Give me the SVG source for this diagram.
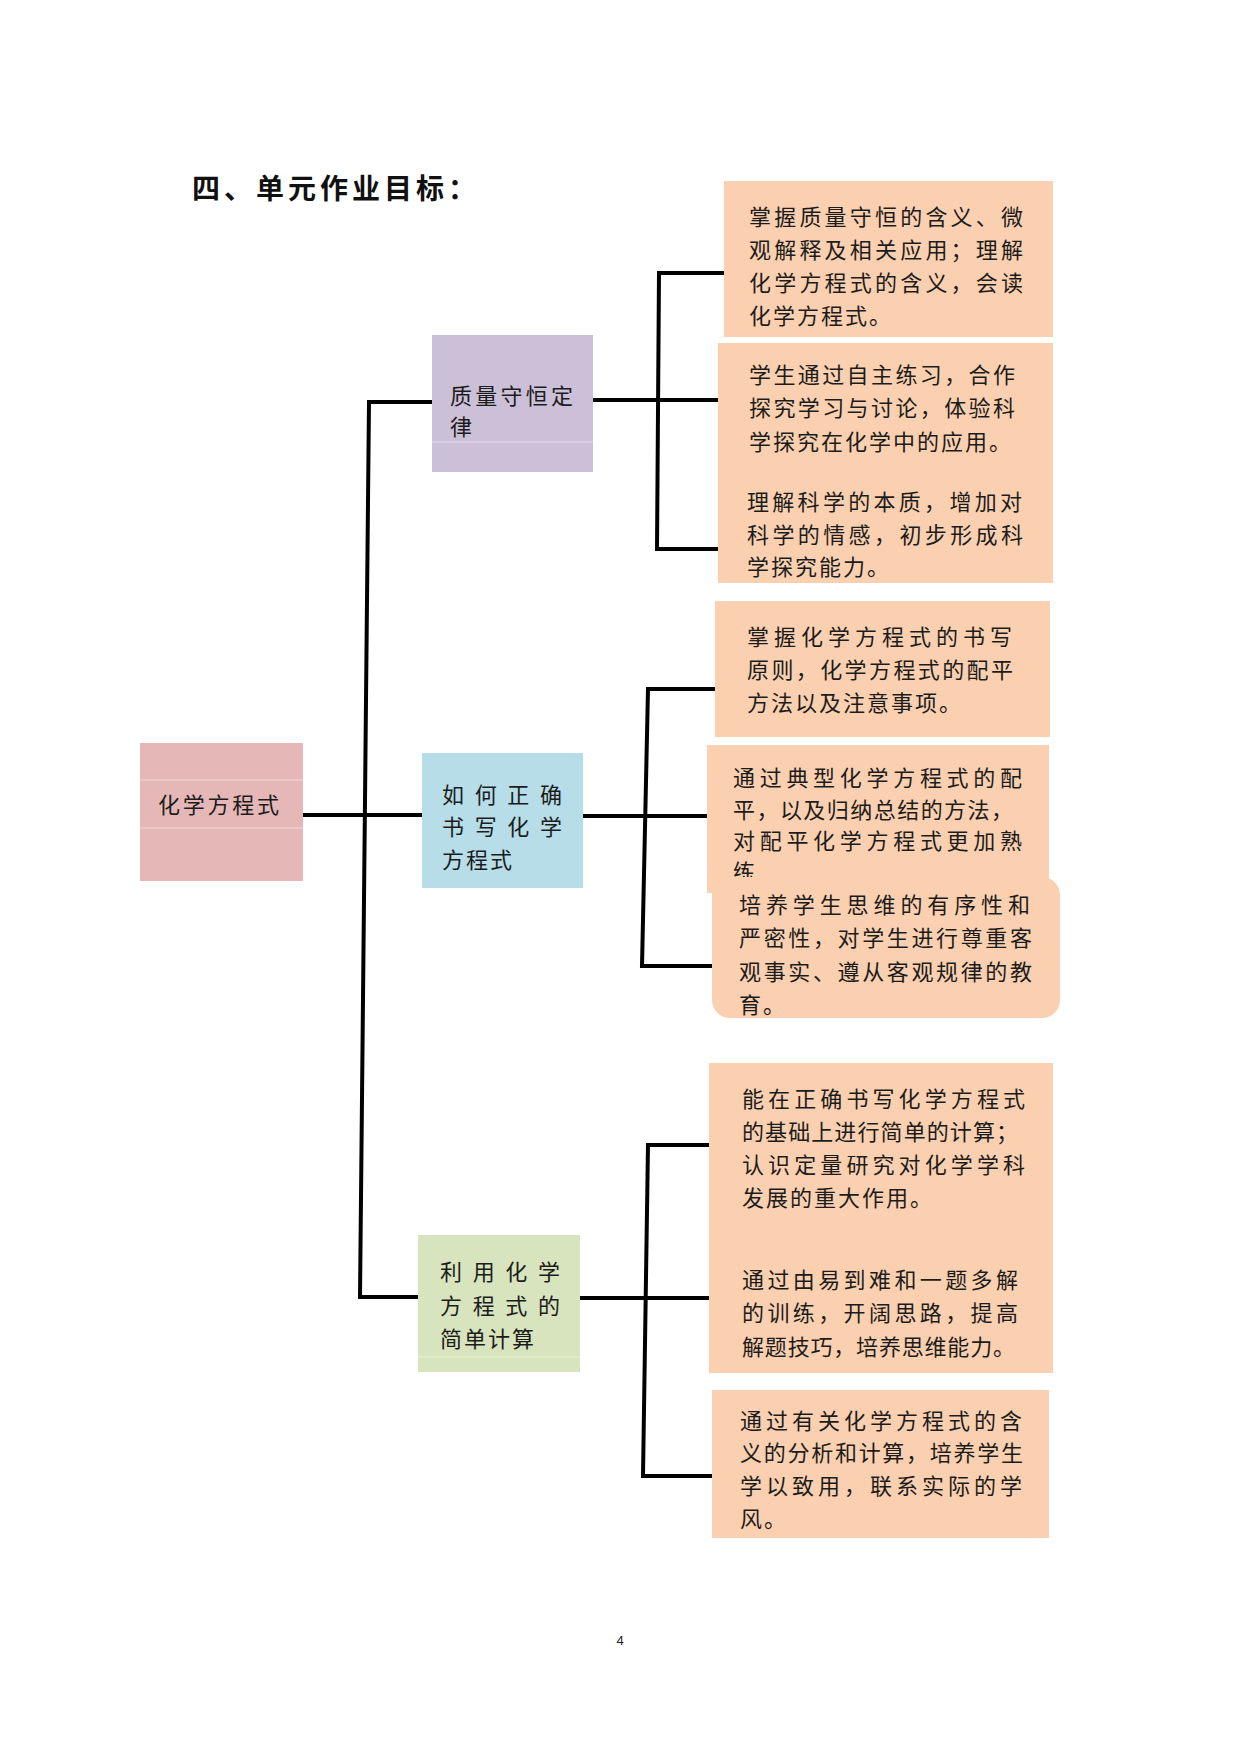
<svg xmlns="http://www.w3.org/2000/svg" width="1240" height="1754" viewBox="0 0 1240 1754">
<style>
.t{font-family:"Noto Sans CJK SC","Noto Sans CJK JP",sans-serif;font-size:22px;fill:#1c1c1c}
.n{letter-spacing:2px}
.title{font-family:"Noto Sans CJK SC",sans-serif;font-size:28px;font-weight:bold;fill:#111;letter-spacing:4px}
.conn{stroke:#000;stroke-width:4;fill:none;stroke-linecap:square}
.o{fill:#fbd0b0}
.faint{stroke:#ffffff;stroke-opacity:0.3;stroke-width:1.5}
</style>
<rect width="1240" height="1754" fill="#ffffff"/>
<text class="title" x="192" y="199">四、单元作业目标：</text>

<g id="connectors">
<path class="conn" d="M303,815 H422"/>
<path class="conn" d="M432,402 H369 L360,1297 H418"/>
<path class="conn" d="M593,400 H718"/>
<path class="conn" d="M724,273 H659 L657,549 H718"/>
<path class="conn" d="M583,816 H707"/>
<path class="conn" d="M715,689 H648 L642,966 H712"/>
<path class="conn" d="M580,1298 H709"/>
<path class="conn" d="M709,1145 H648 L643,1476 H712"/>
</g>

<g id="root">
<rect x="140" y="743" width="163" height="138" fill="#e5b8b7"/>
<line class="faint" x1="140" y1="780" x2="303" y2="780"/>
<line class="faint" x1="140" y1="828" x2="303" y2="828"/>
<text class="t" x="158" y="813" textLength="121" lengthAdjust="spacing">化学方程式</text>
</g>

<g id="node-zhiliang">
<rect x="432" y="335" width="161" height="137" fill="#ccc0d9"/>
<line class="faint" x1="432" y1="442" x2="593" y2="442"/>
<text class="t" x="450" y="404" textLength="123" lengthAdjust="spacing">质量守恒定</text>
<text class="t n" x="450" y="435">律</text>
</g>

<g id="node-shuxie">
<rect x="422" y="753" width="161" height="135" fill="#b6dde8"/>
<text class="t" x="442" y="803" textLength="120" lengthAdjust="spacing">如何正确</text>
<text class="t" x="442" y="835" textLength="120" lengthAdjust="spacing">书写化学</text>
<text class="t n" x="442" y="868">方程式</text>
</g>

<g id="node-jisuan">
<rect x="418" y="1235" width="162" height="137" fill="#d7e4bd"/>
<line class="faint" x1="418" y1="1357" x2="580" y2="1357"/>
<text class="t" x="440" y="1280" textLength="120" lengthAdjust="spacing">利用化学</text>
<text class="t" x="440" y="1314" textLength="120" lengthAdjust="spacing">方程式的</text>
<text class="t n" x="440" y="1347">简单计算</text>
</g>

<g id="goal-1">
<rect class="o" x="724" y="181" width="329" height="156"/>
<text class="t" x="749" y="225" textLength="274" lengthAdjust="spacing">掌握质量守恒的含义、微</text>
<text class="t" x="749" y="258" textLength="274" lengthAdjust="spacing">观解释及相关应用；理解</text>
<text class="t" x="749" y="291" textLength="274" lengthAdjust="spacing">化学方程式的含义，会读</text>
<text class="t n" x="749" y="324">化学方程式。</text>
</g>

<g id="goal-2-3">
<rect class="o" x="718" y="343" width="335" height="240"/>
<text class="t" x="749" y="383" textLength="266" lengthAdjust="spacing">学生通过自主练习，合作</text>
<text class="t" x="749" y="416" textLength="266" lengthAdjust="spacing">探究学习与讨论，体验科</text>
<text class="t n" x="749" y="450">学探究在化学中的应用。</text>
<text class="t" x="747" y="510" textLength="275" lengthAdjust="spacing">理解科学的本质，增加对</text>
<text class="t" x="747" y="543" textLength="276" lengthAdjust="spacing">科学的情感，初步形成科</text>
<text class="t n" x="747" y="575">学探究能力。</text>
</g>

<g id="goal-4">
<rect class="o" x="715" y="601" width="335" height="136"/>
<text class="t" x="747" y="645" textLength="265" lengthAdjust="spacing">掌握化学方程式的书写</text>
<text class="t" x="747" y="678" textLength="266" lengthAdjust="spacing">原则，化学方程式的配平</text>
<text class="t n" x="747" y="711">方法以及注意事项。</text>
</g>

<g id="goal-5">
<rect class="o" x="707" y="745" width="342" height="148"/>
<text class="t" x="733" y="786" textLength="289" lengthAdjust="spacing">通过典型化学方程式的配</text>
<text class="t" x="733" y="818" textLength="280" lengthAdjust="spacing">平，以及归纳总结的方法，</text>
<text class="t" x="733" y="849" textLength="289" lengthAdjust="spacing">对配平化学方程式更加熟</text>
<text class="t n" x="733" y="880">练</text>
</g>

<g id="goal-6">
<rect class="o" x="712" y="877" width="348" height="141" rx="18" ry="18"/>
<rect class="o" x="712" y="877" width="40" height="40"/>
<text class="t" x="739" y="913" textLength="291" lengthAdjust="spacing">培养学生思维的有序性和</text>
<text class="t" x="739" y="946" textLength="293" lengthAdjust="spacing">严密性，对学生进行尊重客</text>
<text class="t" x="739" y="980" textLength="293" lengthAdjust="spacing">观事实、遵从客观规律的教</text>
<text class="t n" x="739" y="1013">育。</text>
</g>

<g id="goal-7-8">
<rect class="o" x="709" y="1063" width="344" height="310"/>
<text class="t" x="742" y="1107" textLength="283" lengthAdjust="spacing">能在正确书写化学方程式</text>
<text class="t" x="742" y="1140" textLength="276" lengthAdjust="spacing">的基础上进行简单的计算；</text>
<text class="t" x="742" y="1173" textLength="283" lengthAdjust="spacing">认识定量研究对化学学科</text>
<text class="t n" x="742" y="1206">发展的重大作用。</text>
<text class="t" x="742" y="1288" textLength="276" lengthAdjust="spacing">通过由易到难和一题多解</text>
<text class="t" x="742" y="1321" textLength="276" lengthAdjust="spacing">的训练，开阔思路，提高</text>
<text class="t" x="742" y="1355" textLength="273" lengthAdjust="spacing">解题技巧，培养思维能力。</text>
</g>

<g id="goal-9">
<rect class="o" x="712" y="1390" width="337" height="148"/>
<text class="t" x="740" y="1429" textLength="282" lengthAdjust="spacing">通过有关化学方程式的含</text>
<text class="t" x="740" y="1461" textLength="283" lengthAdjust="spacing">义的分析和计算，培养学生</text>
<text class="t" x="740" y="1494" textLength="282" lengthAdjust="spacing">学以致用，联系实际的学</text>
<text class="t n" x="740" y="1527">风。</text>
</g>

<text x="620" y="1645" font-family="Liberation Sans, sans-serif" font-size="13" fill="#222" text-anchor="middle">4</text>
</svg>
